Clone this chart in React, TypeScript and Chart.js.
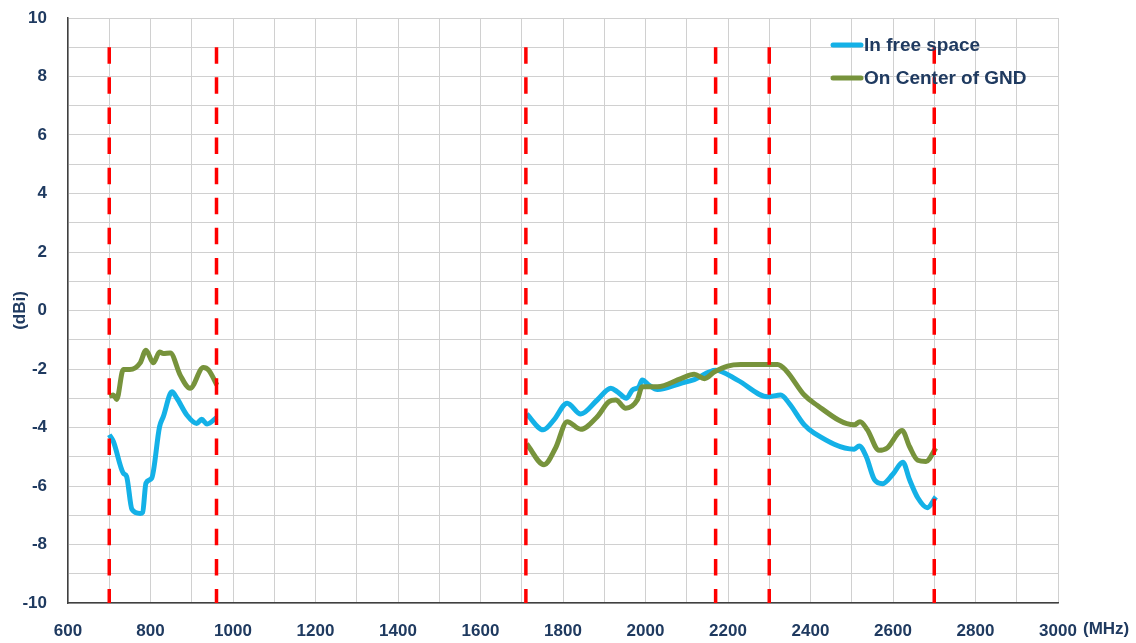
import React, { useEffect, useRef } from "react";
import { Chart, registerables } from "chart.js";

Chart.register(...registerables);

// Frequency (MHz) and gain (dBi) readings
const blueLowFreq = [700, 710, 734, 742, 755, 775, 781, 789, 803, 822, 831, 852, 864, 888, 912, 924, 937, 961];
const blueLowGain = [-4.25, -4.48, -5.56, -5.67, -6.8, -6.94, -6.9, -5.9, -5.73, -3.97, -3.63, -2.78, -3.0, -3.57, -3.86, -3.72, -3.88, -3.65];
const blueHighFreq = [1712, 1752, 1778, 1810, 1843, 1883, 1916, 1932, 1954, 1968, 1984, 1992, 2008, 2029, 2086, 2118, 2170, 2223, 2296, 2328, 2348, 2385, 2409, 2506, 2518, 2535, 2555, 2575, 2599, 2624, 2640, 2660, 2683, 2704];
const blueHighGain = [-3.54, -4.08, -3.74, -3.17, -3.54, -3.06, -2.66, -2.78, -3.0, -2.72, -2.61, -2.38, -2.55, -2.7, -2.49, -2.36, -2.04, -2.38, -2.95, -2.89, -3.17, -3.91, -4.19, -4.74, -4.63, -4.99, -5.78, -5.92, -5.61, -5.19, -5.78, -6.4, -6.74, -6.37];
const greenLowFreq = [700, 710, 718, 734, 750, 775, 789, 807, 822, 831, 848, 872, 896, 928, 941, 961];
const greenLowGain = [-2.93, -2.89, -3.04, -2.02, -2.02, -1.79, -1.36, -1.79, -1.42, -1.47, -1.45, -2.21, -2.66, -1.95, -2.04, -2.55];
const greenHighFreq = [1712, 1754, 1782, 1810, 1843, 1883, 1911, 1928, 1952, 1980, 1992, 2029, 2086, 2118, 2143, 2167, 2199, 2231, 2320, 2340, 2385, 2409, 2506, 2520, 2538, 2566, 2586, 2622, 2640, 2660, 2680, 2704];
const greenHighGain = [-4.56, -5.27, -4.7, -3.8, -4.06, -3.63, -3.12, -3.06, -3.34, -3.06, -2.61, -2.61, -2.33, -2.18, -2.33, -2.1, -1.9, -1.85, -1.85, -2.04, -2.89, -3.17, -3.91, -3.8, -4.08, -4.78, -4.7, -4.1, -4.65, -5.12, -5.16, -4.7];
const bandEdges = [700, 960, 1710, 2170, 2300, 2700];
const seriesNames = ["In free space", "On Center of GND"];
const seriesColors = ["#14b1e7", "#77933c"];
const edgeTop = 9;
const edgeBottom = -10;

const TEXT = "#1f3a60";
const FONT = "'Liberation Sans', Arial, sans-serif";

function toPoints(lowF: number[], lowG: number[], highF: number[], highG: number[]) {
  const pts: { x: number; y: number | null }[] = [];
  lowF.forEach((f, i) => pts.push({ x: f, y: lowG[i] }));
  pts.push({ x: 1300, y: null });
  highF.forEach((f, i) => pts.push({ x: f, y: highG[i] }));
  return pts;
}

const overlayPlugin = {
  id: "overlay",
  afterDraw(chart: any) {
    const ctx = chart.ctx;
    const area = chart.chartArea;
    ctx.save();
    // legend
    const lx = 833;
    const ly = [45, 78];
    seriesNames.forEach((name, i) => {
      ctx.strokeStyle = seriesColors[i];
      ctx.lineWidth = 5;
      ctx.lineCap = "round";
      ctx.beginPath();
      ctx.moveTo(lx, ly[i]);
      ctx.lineTo(lx + 28, ly[i]);
      ctx.stroke();
      ctx.fillStyle = TEXT;
      ctx.font = `bold 19px ${FONT}`;
      ctx.textAlign = "left";
      ctx.textBaseline = "middle";
      ctx.fillText(name, lx + 31, ly[i] + 1);
    });
    // axis titles
    ctx.font = `bold 17px ${FONT}`;
    ctx.fillStyle = TEXT;
    ctx.textAlign = "left";
    ctx.textBaseline = "middle";
    ctx.fillText("(MHz)", area.right + 25, 629);
    ctx.translate(20, (area.top + area.bottom) / 2);
    ctx.rotate(-Math.PI / 2);
    ctx.textAlign = "center";
    ctx.fillText("(dBi)", 0, 0);
    ctx.restore();
  },
};

export default function App() {
  const ref = useRef<HTMLCanvasElement | null>(null);
  useEffect(() => {
    document.body.style.margin = "0";
    if (!ref.current) return;
    const edgeSets = bandEdges.map((f) => ({
      label: "edge" + f,
      data: [
        { x: f, y: edgeTop },
        { x: f, y: edgeBottom },
      ],
      borderColor: "#ff0000",
      borderWidth: 3.5,
      borderDash: [16.5, 13.6],
      borderCapStyle: "butt",
      pointRadius: 0,
      fill: false,
      order: 0,
    }));
    const chart = new Chart(ref.current, {
      type: "line",
      data: {
        datasets: [
          {
            label: seriesNames[0],
            data: toPoints(blueLowFreq, blueLowGain, blueHighFreq, blueHighGain),
            borderColor: seriesColors[0],
            borderWidth: 5,
            pointRadius: 0,
            cubicInterpolationMode: "monotone",
            spanGaps: false,
            fill: false,
            order: 2,
          },
          {
            label: seriesNames[1],
            data: toPoints(greenLowFreq, greenLowGain, greenHighFreq, greenHighGain),
            borderColor: seriesColors[1],
            borderWidth: 5,
            pointRadius: 0,
            cubicInterpolationMode: "monotone",
            spanGaps: false,
            fill: false,
            order: 1,
          },
          ...edgeSets,
        ] as any,
      },
      options: {
        animation: false,
        responsive: false,
        layout: { padding: { left: 0, top: 18, right: 78, bottom: 0 } },
        plugins: {
          legend: { display: false },
          tooltip: { enabled: false },
        },
        scales: {
          x: {
            type: "linear",
            min: 600,
            max: 3000,
            ticks: {
              stepSize: 100,
              autoSkip: false,
              maxRotation: 0,
              padding: 18,
              color: TEXT,
              font: { family: FONT, size: 17, weight: "bold" },
              callback: (v: any) => (Number(v) % 200 === 0 ? String(v) : ""),
            },
            grid: { color: "#d0d0d0", lineWidth: 1, drawTicks: false },
            border: { color: "#404040", width: 1.5 },
            afterFit: (s: any) => {
              s.height = 40;
              s.paddingLeft = 0;
              s.paddingRight = 0;
            },
          },
          y: {
            min: -10,
            max: 10,
            ticks: {
              stepSize: 1,
              autoSkip: false,
              padding: 21,
              color: TEXT,
              font: { family: FONT, size: 17, weight: "bold" },
              callback: (v: any) => (Math.round(Number(v)) % 2 === 0 ? String(v) : ""),
            },
            grid: { color: "#d0d0d0", lineWidth: 1, drawTicks: false },
            border: { color: "#404040", width: 1.5 },
            afterFit: (s: any) => {
              s.width = 68;
              s.paddingTop = 0;
              s.paddingBottom = 0;
            },
          },
        },
      } as any,
      plugins: [overlayPlugin],
    });
    return () => chart.destroy();
  }, []);
  return (
    <div style={{ width: 1136, height: 643 }}>
      <canvas ref={ref} width={1136} height={643} />
    </div>
  );
}
